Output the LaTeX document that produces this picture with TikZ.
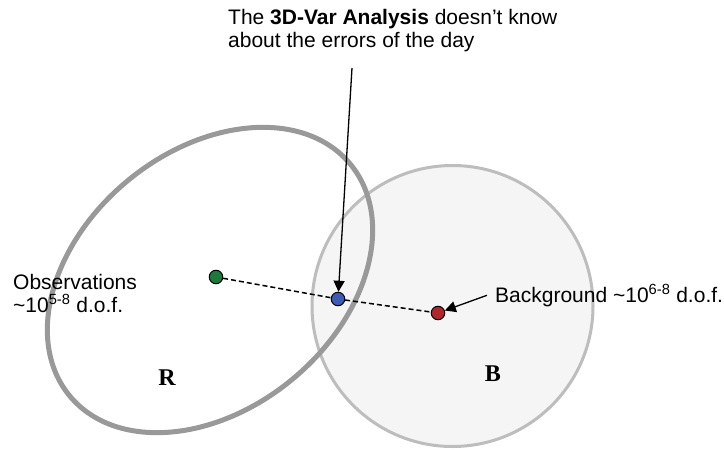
\documentclass[tikz,border=0pt]{standalone}
\usepackage{fontspec}
\setmainfont{Liberation Sans}
\newfontfamily\letterfont{Liberation Serif}
\usetikzlibrary{arrows.meta}
\definecolor{ellgray}{HTML}{999999}
\definecolor{circgray}{HTML}{BDBDBD}
\definecolor{circfill}{HTML}{F5F5F5}
\definecolor{obsgreen}{HTML}{1B7A3C}
\definecolor{anblue}{HTML}{3D5BB5}
\definecolor{bgred}{HTML}{B0262A}
\tikzset{
  dot/.style={circle, draw=black, line width=1pt, minimum size=13.5pt, inner sep=0pt},
  lbl/.style={font=\fontsize{21}{23}\selectfont, inner sep=0pt, align=left},
  letter/.style={font=\letterfont\bfseries\fontsize{24}{26}\selectfont, inner sep=0pt},
  pointer/.style={line width=1.3pt, -{Triangle[length=11pt,width=11pt]}},
  link/.style={line width=1.5pt, dash pattern=on 5pt off 3pt}
}
\begin{document}
\begin{tikzpicture}[x=1pt,y=-1pt]
\useasboundingbox (0,0) rectangle (724,450);
\fill[white] (0,0) rectangle (724,450);
% B circle
\filldraw[fill=circfill, draw=circgray, line width=3pt] (452.5,306) circle [radius=140.5];
% R ellipse
\draw[ellgray, line width=5pt, rotate around={39.5:(210,280)}] (210,280) ellipse [x radius=182, y radius=129];
% dots
\node[dot, fill=obsgreen] (obs) at (216,277) {};
\node[dot, fill=anblue] (ana) at (338,299) {};
\node[dot, fill=bgred] (bgd) at (438,313) {};
\draw[link] (obs) -- (ana);
\draw[link] (ana) -- (bgd);
% labels
\node[lbl, anchor=north west] (antext) at (228,9.5) {The \textbf{3D-Var Analysis} doesn{\char"0027}t know\\about the errors of the day};
\node[lbl, anchor=north west] (obstext) at (13,274) {Observations\\\textasciitilde10\textsuperscript{5-8} d.o.f.};
\node[lbl, anchor=base west, inner xsep=8pt] (bgtext) at (487,302) {Background \textasciitilde10\textsuperscript{6-8} d.o.f.};
\node[letter] (R) at (167,378) {R};
\node[letter] (B) at (493,374) {B};
% arrows
\coordinate (anstart) at (352,68);
\draw[pointer] (anstart) -- (ana);
\draw[pointer] (bgtext.west) -- (bgd);
\end{tikzpicture}
\end{document}
